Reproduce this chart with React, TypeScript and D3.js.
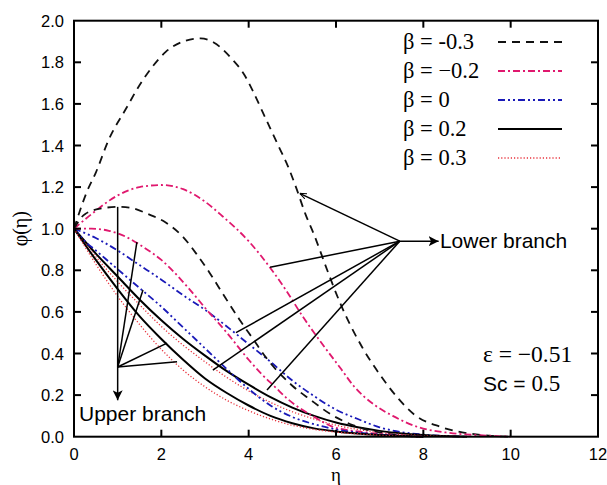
import React, { useEffect, useRef } from "react";
import * as d3 from "d3";

// axis ticks
const etaTicks = [0, 2, 4, 6, 8, 10, 12];
const phiTicks = [0, 0.2, 0.4, 0.6, 0.8, 1.0, 1.2, 1.4, 1.6, 1.8, 2.0];

// legend labels
const betaLabels = ["β = -0.3", "β = \u22120.2", "β = 0", "β = 0.2", "β = 0.3"];

// lower branch curves [eta, phi]
const lowerM03: [number, number][] = [
  [0, 1], [0.3, 1.18], [0.5, 1.27], [0.8, 1.43], [1.2, 1.58], [1.5, 1.69], [1.8, 1.78],
  [2.1, 1.85], [2.5, 1.9], [2.9, 1.915], [3.2, 1.895], [3.6, 1.82], [3.9, 1.74], [4.1, 1.66],
  [4.3, 1.57], [4.5, 1.48], [4.7, 1.39], [4.9, 1.3], [5.1, 1.19], [5.3, 1.07], [5.5, 0.97],
  [5.8, 0.8], [6.1, 0.64], [6.6, 0.43], [7.0, 0.3], [7.4, 0.19], [7.8, 0.105], [8.4, 0.047],
  [9.0, 0.017], [9.5, 0.005], [10, 0],
];
const lowerM02: [number, number][] = [
  [0, 1], [0.4, 1.07], [1.0, 1.16], [1.5, 1.2], [2.0, 1.21], [2.5, 1.19], [3.0, 1.13],
  [3.4, 1.06], [4.0, 0.94], [4.5, 0.81], [4.9, 0.69], [5.2, 0.59], [5.6, 0.47], [6.1, 0.33],
  [6.4, 0.245], [6.9, 0.15], [7.3, 0.1], [7.9, 0.045], [8.6, 0.018], [9.3, 0.007], [10, 0],
];
const lower0: [number, number][] = [
  [0, 1], [0.5, 0.955], [1, 0.895], [1.5, 0.825], [2, 0.755], [2.5, 0.68], [3, 0.61],
  [3.5, 0.53], [4, 0.445], [4.5, 0.36], [5, 0.27], [5.5, 0.195], [6, 0.13], [6.5, 0.085],
  [7, 0.045], [7.5, 0.022], [8, 0.01], [9, 0],
];
const lower02: [number, number][] = [
  [0, 1], [0.5, 0.88], [1, 0.77], [1.5, 0.66], [2, 0.56], [2.5, 0.47], [3, 0.39], [3.5, 0.315],
  [4, 0.25], [4.5, 0.19], [5, 0.14], [5.5, 0.1], [6, 0.068], [6.5, 0.045], [7, 0.028],
  [8, 0.008], [9, 0],
];
const lower03: [number, number][] = [
  [0, 1], [0.5, 0.865], [1, 0.745], [1.5, 0.635], [2, 0.53], [2.5, 0.44], [3, 0.36],
  [3.5, 0.285], [4, 0.22], [4.5, 0.165], [5, 0.12], [5.5, 0.085], [6, 0.055], [6.5, 0.035],
  [7, 0.02], [8, 0.005], [9, 0],
];

// upper branch curves [eta, phi]
const upperM03: [number, number][] = [
  [0, 1], [0.25, 1.07], [0.7, 1.1], [1.0, 1.105], [1.3, 1.1], [1.7, 1.07], [2.1, 1.03],
  [2.5, 0.96], [2.8, 0.88], [3.1, 0.79], [3.4, 0.69], [3.8, 0.56], [4.1, 0.47], [4.4, 0.38],
  [5.0, 0.245], [5.4, 0.18], [5.9, 0.105], [6.4, 0.055], [7, 0.02], [8, 0],
];
const upperM02: [number, number][] = [
  [0, 1], [0.4, 1.0], [0.8, 0.99], [1.2, 0.96], [1.6, 0.91], [2.0, 0.85], [2.6, 0.72],
  [3.0, 0.62], [3.5, 0.5], [4.0, 0.37], [4.3, 0.3], [4.6, 0.24], [4.9, 0.18], [5.5, 0.095],
  [5.9, 0.05], [6.5, 0.025], [7.2, 0.01], [8, 0],
];
const upper0: [number, number][] = [
  [0, 1], [0.25, 0.94], [0.5, 0.895], [1, 0.805], [1.5, 0.715], [2, 0.625], [2.5, 0.525],
  [3, 0.425], [3.5, 0.325], [4, 0.23], [4.5, 0.15], [5, 0.095], [5.5, 0.06], [6, 0.035],
  [6.5, 0.02], [7, 0.01], [8, 0],
];
const upper02: [number, number][] = [
  [0, 1], [0.5, 0.85], [1, 0.71], [1.5, 0.58], [2, 0.47], [2.5, 0.37], [3, 0.28], [3.5, 0.21],
  [4, 0.15], [4.5, 0.1], [5, 0.065], [5.5, 0.04], [6, 0.025], [7, 0.008], [8, 0],
];
const upper03: [number, number][] = [
  [0, 1], [0.5, 0.83], [1, 0.675], [1.5, 0.54], [2, 0.42], [2.5, 0.32], [3, 0.24], [3.5, 0.175],
  [4, 0.125], [4.5, 0.085], [5, 0.055], [5.5, 0.035], [6, 0.022], [7, 0.007], [8, 0],
];

const styles = [
  { color: "#111", dash: "8,6", width: 1.8 },
  { color: "#e0186e", dash: "7,3,2,3", width: 1.8 },
  { color: "#1a1ab8", dash: "7,3,2,3,2,3", width: 1.8 },
  { color: "#000", dash: "none", width: 2 },
  { color: "#e8323c", dash: "1.2,2", width: 1.3 },
];
const lowerCurves = [lowerM03, lowerM02, lower0, lower02, lower03];
const upperCurves = [upperM03, upperM02, upper0, upper02, upper03];

// annotation hubs and targets (data coords)
const lowerHub: [number, number] = [7.46, 0.94];
const lowerTargets: [number, number][] = [[4.49, 0.815], [3.71, 0.5], [3.18, 0.32], [4.42, 0.225]];
const lowerArrowTarget: [number, number] = [5.17, 1.17];
const upperHub: [number, number] = [1.0, 0.335];
const upperTargets: [number, number][] = [[1.0, 1.105], [1.44, 0.935], [1.58, 0.705], [2.13, 0.45], [2.36, 0.36]];

const W = 607;
const H = 485;
const margin = { top: 20.7, right: 9, bottom: 48.3, left: 74 };

export default function App() {
  const svgRef = useRef<SVGSVGElement>(null);

  useEffect(() => {
    const svg = d3.select(svgRef.current);
    svg.selectAll("*").remove();

    const x = d3.scaleLinear().domain([0, 12]).range([margin.left, W - margin.right]);
    const y = d3.scaleLinear().domain([0, 2]).range([H - margin.bottom, margin.top]);
    const sans = "'Liberation Sans', Arial, sans-serif";
    const serif = "'Liberation Serif', 'Times New Roman', serif";

    const defs = svg.append("defs");
    defs.append("marker").attr("id", "ah").attr("viewBox", "0 0 10 10").attr("refX", 10).attr("refY", 5)
      .attr("markerWidth", 10).attr("markerHeight", 10).attr("markerUnits", "userSpaceOnUse")
      .attr("orient", "auto").append("path").attr("d", "M0,0 L10,5 L0,10 L2.5,5 Z").attr("fill", "#000");
    defs.append("marker").attr("id", "ahs").attr("viewBox", "0 0 10 10").attr("refX", 10).attr("refY", 5)
      .attr("markerWidth", 7).attr("markerHeight", 7).attr("markerUnits", "userSpaceOnUse")
      .attr("orient", "auto").append("path").attr("d", "M0,1 L10,5 L0,9").attr("fill", "none")
      .attr("stroke", "#000").attr("stroke-width", 1.5);

    const line = d3.line<[number, number]>().x((d) => x(d[0])).y((d) => y(d[1])).curve(d3.curveMonotoneX);

    const drawCurve = (data: [number, number][], i: number) => {
      svg.append("path").attr("d", line(data)).attr("fill", "none")
        .attr("stroke", styles[i].color).attr("stroke-width", styles[i].width)
        .attr("stroke-dasharray", styles[i].dash);
    };
    lowerCurves.forEach(drawCurve);
    upperCurves.forEach(drawCurve);

    // annotations
    const ann = svg.append("g").attr("stroke", "#000").attr("stroke-width", 1.5).attr("fill", "none");
    lowerTargets.forEach((t) => {
      ann.append("line").attr("x1", x(lowerHub[0])).attr("y1", y(lowerHub[1])).attr("x2", x(t[0])).attr("y2", y(t[1]));
    });
    ann.append("line").attr("x1", x(lowerHub[0])).attr("y1", y(lowerHub[1]))
      .attr("x2", x(lowerArrowTarget[0])).attr("y2", y(lowerArrowTarget[1])).attr("marker-end", "url(#ahs)");
    ann.append("line").attr("x1", x(lowerHub[0])).attr("y1", y(lowerHub[1]))
      .attr("x2", x(8.35)).attr("y2", y(lowerHub[1])).attr("marker-end", "url(#ah)");
    upperTargets.forEach((t) => {
      ann.append("line").attr("x1", x(upperHub[0])).attr("y1", y(upperHub[1])).attr("x2", x(t[0])).attr("y2", y(t[1]));
    });
    ann.append("line").attr("x1", x(upperHub[0])).attr("y1", y(upperHub[1]))
      .attr("x2", x(upperHub[0])).attr("y2", y(0.175)).attr("marker-end", "url(#ah)");

    svg.append("text").attr("x", x(8.38)).attr("y", y(lowerHub[1]) + 7).attr("font-family", sans)
      .attr("font-size", 21).text("Lower branch");
    svg.append("text").attr("x", 79).attr("y", y(0.08) + 1).attr("font-family", sans)
      .attr("font-size", 21).text("Upper branch");

    // frame
    const [x0, x1] = x.range();
    const [y0, y1] = y.range();
    svg.append("rect").attr("x", x0).attr("y", y1).attr("width", x1 - x0).attr("height", y0 - y1)
      .attr("fill", "none").attr("stroke", "#000").attr("stroke-width", 2);

    const tk = 7;
    const ticks = svg.append("g").attr("stroke", "#000").attr("stroke-width", 2);
    etaTicks.slice(1, -1).forEach((v) => {
      ticks.append("line").attr("x1", x(v)).attr("x2", x(v)).attr("y1", y0).attr("y2", y0 - tk);
      ticks.append("line").attr("x1", x(v)).attr("x2", x(v)).attr("y1", y1).attr("y2", y1 + tk);
    });
    phiTicks.slice(1, -1).forEach((v) => {
      ticks.append("line").attr("x1", x0).attr("x2", x0 + tk).attr("y1", y(v)).attr("y2", y(v));
      ticks.append("line").attr("x1", x1).attr("x2", x1 - tk).attr("y1", y(v)).attr("y2", y(v));
    });

    svg.append("g").selectAll("text").data(etaTicks).join("text")
      .attr("x", (d) => x(d)).attr("y", y0 + 23).attr("text-anchor", "middle")
      .attr("font-family", sans).attr("font-size", 16.5).text((d) => d);
    svg.append("g").selectAll("text").data(phiTicks).join("text")
      .attr("x", x0 - 10).attr("y", (d) => y(d) + 6).attr("text-anchor", "end")
      .attr("font-family", sans).attr("font-size", 16.5).text((d) => d.toFixed(1));

    svg.append("text").attr("x", (x0 + x1) / 2).attr("y", 481).attr("text-anchor", "middle")
      .attr("font-family", serif).attr("font-size", 19).text("η");
    svg.append("text").attr("transform", `translate(27,${(y0 + y1) / 2}) rotate(-90)`)
      .attr("text-anchor", "middle").attr("font-family", serif).attr("font-size", 20).text("φ(η)");

    // legend
    const lg = svg.append("g");
    betaLabels.forEach((lab, i) => {
      const ly = 42 + i * 29;
      lg.append("text").attr("x", 403).attr("y", ly + 7).attr("font-family", serif)
        .attr("font-size", 22.5).text(lab);
      lg.append("line").attr("x1", 498).attr("x2", 562).attr("y1", ly).attr("y2", ly)
        .attr("stroke", styles[i].color).attr("stroke-width", styles[i].width)
        .attr("stroke-dasharray", styles[i].dash);
    });

    svg.append("text").attr("x", 483).attr("y", 362).attr("font-family", serif)
      .attr("font-size", 23.5).text("ε = \u22120.51");
    const sc = svg.append("text").attr("x", 483).attr("y", 391).attr("font-size", 21);
    sc.append("tspan").attr("font-family", sans).text("Sc = ");
    sc.append("tspan").attr("font-family", serif).attr("font-size", 23).text("0.5");
  }, []);

  return (
    <svg ref={svgRef} width={W} height={H}
      style={{ position: "absolute", left: 0, top: 0, background: "#fff" }} />
  );
}
